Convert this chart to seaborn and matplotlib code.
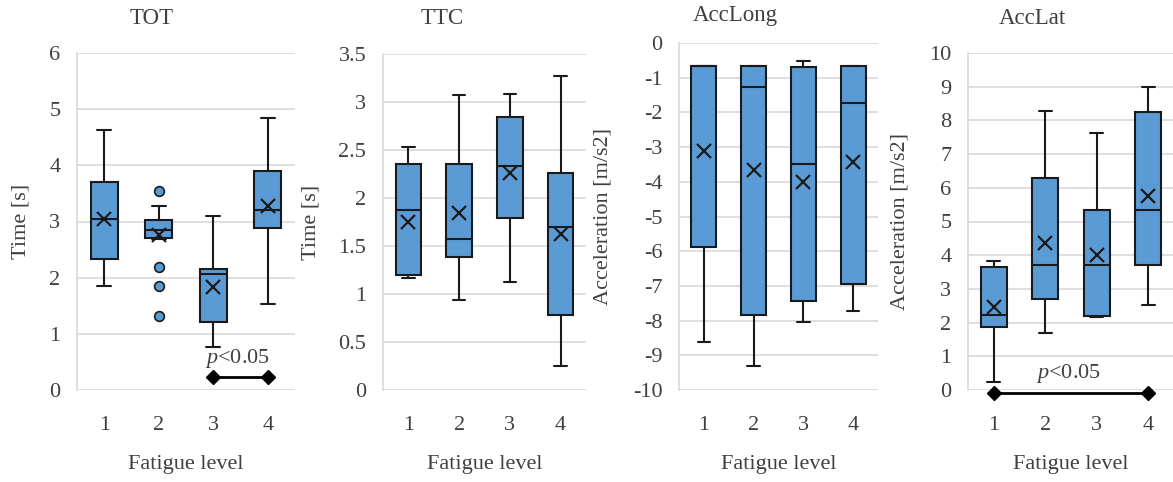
import numpy as np
import pandas as pd
import matplotlib
matplotlib.use("Agg")
import matplotlib.pyplot as plt
import seaborn as sns

# ---------------- data ----------------
levels = ["1", "2", "3", "4"]

# TOT  (Time [s])
tot_lo = [1.85, 2.68, 0.77, 1.53]
tot_q1 = [2.34, 2.70, 1.21, 2.89]
tot_med = [3.04, 2.85, 2.07, 3.20]
tot_q3 = [3.70, 3.02, 2.15, 3.90]
tot_hi = [4.63, 3.27, 3.10, 4.84]
tot_mean = [3.05, 2.76, 1.84, 3.27]
tot_out_level = ["2", "2", "2", "2"]
tot_out_value = [3.54, 2.19, 1.85, 1.31]
tot_sig_levels = ["3", "4"]
tot_sig_y = 0.23

# TTC  (Time [s])
ttc_lo = [1.17, 0.94, 1.12, 0.25]
ttc_q1 = [1.20, 1.39, 1.795, 0.78]
ttc_med = [1.88, 1.57, 2.33, 1.70]
ttc_q3 = [2.354, 2.35, 2.84, 2.26]
ttc_hi = [2.535, 3.07, 3.08, 3.27]
ttc_mean = [1.75, 1.84, 2.26, 1.63]

# AccLong (Acceleration [m/s2])
lon_lo = [-8.61, -9.31, -8.05, -7.73]
lon_q1 = [-5.89, -7.84, -7.44, -6.94]
lon_med = [-0.66, -1.27, -3.50, -1.74]
lon_q3 = [-0.66, -0.66, -0.70, -0.66]
lon_hi = [-0.66, -0.66, -0.53, -0.66]
lon_mean = [-3.11, -3.67, -4.00, -3.43]

# AccLat (Acceleration [m/s2])
lat_lo = [0.25, 1.70, 2.16, 2.52]
lat_q1 = [1.88, 2.69, 2.20, 3.71]
lat_med = [2.22, 3.70, 3.70, 5.34]
lat_q3 = [3.66, 6.30, 5.33, 8.26]
lat_hi = [3.84, 8.28, 7.63, 8.99]
lat_mean = [2.46, 4.36, 4.00, 5.76]
lat_sig_levels = ["1", "4"]
lat_sig_y = -0.08

titles = ["TOT", "TTC", "AccLong", "AccLat"]
ylabels = ["Time [s]", "Time [s]", "Acceleration [m/s2]", "Acceleration [m/s2]"]
xlabel = "Fatigue level"
sig_text = r"$\mathit{p}$<0.05"

# ---------------- style ----------------
BLUE = "#5B9BD5"
EDGE = "#1a1a1a"
TXT = "#404040"
GRID = "#d9d9d9"

sns.set_theme(style="whitegrid")
plt.rcParams["font.family"] = ["Liberation Serif", "DejaVu Serif"]
plt.rcParams["mathtext.fontset"] = "custom"
plt.rcParams["mathtext.rm"] = "Liberation Serif"
plt.rcParams["mathtext.it"] = "Liberation Serif:italic"

W, H = 1173, 482
fig = plt.figure(figsize=(W / 100, H / 100), dpi=100)

def px_axes(left, top, right, bottom):
    return fig.add_axes([left / W, 1 - bottom / H, (right - left) / W, (bottom - top) / H])

axes = [
    px_axes(77, 53, 295, 390),
    px_axes(383, 54, 586, 390),
    px_axes(679, 43, 878, 390),
    px_axes(968, 53, 1174, 390),
]

def long_frame(lo, q1, med, q3, hi):
    rows = []
    for i, lv in enumerate(levels):
        for v in (lo[i], q1[i], med[i], q3[i], hi[i]):
            rows.append({"level": lv, "value": v})
    return pd.DataFrame(rows)

panels = [
    (tot_lo, tot_q1, tot_med, tot_q3, tot_hi, tot_mean, (0, 6), np.arange(0, 6.01, 1)),
    (ttc_lo, ttc_q1, ttc_med, ttc_q3, ttc_hi, ttc_mean, (0, 3.5), np.arange(0, 3.51, 0.5)),
    (lon_lo, lon_q1, lon_med, lon_q3, lon_hi, lon_mean, (-10, 0), np.arange(-10, 0.01, 1)),
    (lat_lo, lat_q1, lat_med, lat_q3, lat_hi, lat_mean, (0, 10), np.arange(0, 10.01, 1)),
]

title_pos = [(152, 18), (442, 18), (735, 15), (1032, 18)]
ylabel_x = [-0.215, -0.31, -0.332, -0.283]

for k, (ax, p) in enumerate(zip(axes, panels)):
    lo, q1, med, q3, hi, mean, ylim, yticks = p
    df = long_frame(lo, q1, med, q3, hi)
    sns.boxplot(data=df, x="level", y="value", order=levels, whis=np.inf,
                width=0.5, color=BLUE, saturation=1, linecolor=EDGE,
                linewidth=1.5, showfliers=False, ax=ax)
    sns.pointplot(x=levels, y=mean, order=levels, linestyle="none", marker="x",
                  markersize=10, markeredgewidth=1.6, color=EDGE, errorbar=None, ax=ax)
    ax.set_xlim(-0.5, 3.5)
    ax.set_ylim(*ylim)
    ax.set_yticks(yticks)
    ax.set_yticklabels(["{:g}".format(round(t, 2)) for t in yticks])
    ax.grid(axis="y", color=GRID, linewidth=1.2)
    ax.grid(axis="x", visible=False)
    ax.set_axisbelow(True)
    for s in ("top", "right", "bottom"):
        ax.spines[s].set_visible(False)
    ax.spines["left"].set_color(GRID)
    ax.spines["left"].set_linewidth(1.2)
    ax.tick_params(axis="both", length=0, labelsize=16, labelcolor=TXT)
    ax.tick_params(axis="x", pad=19)
    ax.tick_params(axis="y", pad=12)
    ax.set_xlabel(xlabel, fontsize=16, color=TXT, labelpad=14)
    ax.set_ylabel(ylabels[k], fontsize=16, color=TXT)
    ax.yaxis.set_label_coords(ylabel_x[k], 0.5)
    ax.set_facecolor("white")
    fig.text(title_pos[k][0] / W, 1 - title_pos[k][1] / H, titles[k], ha="center", va="center",
             fontsize=16.5, color=TXT)

# outliers (TOT)
sns.stripplot(x=tot_out_level, y=tot_out_value, order=levels, jitter=False, color=BLUE,
              edgecolor=EDGE, linewidth=1.2, size=7, ax=axes[0])
axes[0].set_xlim(-0.5, 3.5)

# significance bars
for ax, sig_levels, sig_y, tx, ty in [
    (axes[0], tot_sig_levels, tot_sig_y, 2.45, 0.56),
    (axes[3], lat_sig_levels, lat_sig_y, 1.46, 0.5),
]:
    xs = [levels.index(l) for l in sig_levels]
    ax.plot(xs, [sig_y, sig_y], color="black", linewidth=2, marker="D", markersize=7,
            clip_on=False, zorder=5)
    ax.text(tx, ty, sig_text, ha="center", va="center", fontsize=16, color=TXT)

fig.savefig("out.png", dpi=100, facecolor="white")
